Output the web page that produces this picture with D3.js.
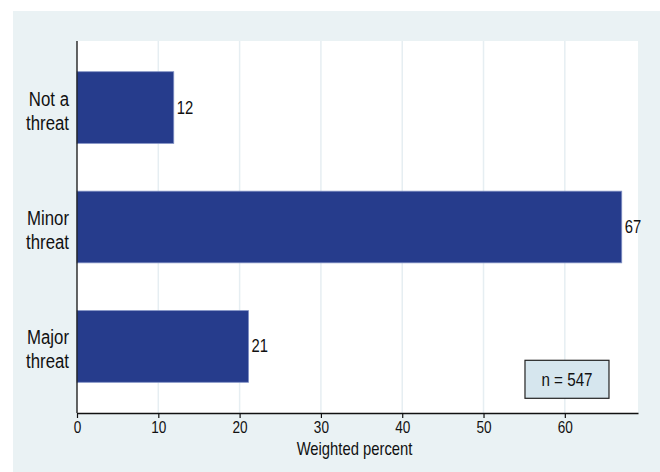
<!DOCTYPE html>
<html lang="en">
<head>
<meta charset="utf-8" />
<title>Weighted percent</title>
<script src="https://d3js.org/d3.v7.min.js"></script>
<style>
  body { margin: 0; background: #fff; }
  text { font-family: "Liberation Sans", Arial, sans-serif; fill: #111; }
</style>
</head>
<body>
<script>
// data
var categories = [["Not a", "threat"], ["Minor", "threat"], ["Major", "threat"]];
var values = [11.9, 67.0, 21.1];
var valueLabels = ["12", "67", "21"];
var xTicks = [0, 10, 20, 30, 40, 50, 60];
var note = "n = 547";

var W = 660, H = 472;
var margin = {top: 41, right: 22, bottom: 59, left: 77};
var width = W - margin.left - margin.right,
    height = H - margin.top - margin.bottom;
var SX = 0.8; // horizontal squeeze, the original uses a narrow face

function at(px, py) {
  return "translate(" + px + "," + py + ") scale(" + SX + ",1)";
}

var svg = d3.select("body").append("svg")
    .attr("width", W)
    .attr("height", H);

// outer background
svg.append("rect")
    .attr("x", 13).attr("y", 11)
    .attr("width", W - 13).attr("height", H - 11)
    .attr("fill", "#eaf2f4");

var g = svg.append("g")
    .attr("transform", "translate(" + margin.left + "," + margin.top + ")");

g.append("rect")
    .attr("width", width).attr("height", height)
    .attr("fill", "#fff");

var x = d3.scaleLinear().domain([0, 69]).range([0, width]);
var y = d3.scaleBand()
    .domain(d3.range(categories.length))
    .range([0, height])
    .paddingInner(0.4)
    .paddingOuter(0.257);

// grid lines
g.selectAll(".grid")
    .data(xTicks.filter(function(d) { return d > 0; }))
  .enter().append("line")
    .attr("x1", function(d) { return x(d); })
    .attr("x2", function(d) { return x(d); })
    .attr("y1", 0).attr("y2", height)
    .attr("stroke", "#e6eef2")
    .attr("stroke-width", 1.5);

// bars
g.selectAll(".bar")
    .data(values)
  .enter().append("rect")
    .attr("x", 0)
    .attr("y", function(d, i) { return y(i); })
    .attr("width", function(d) { return x(d); })
    .attr("height", y.bandwidth())
    .attr("fill", "#263c8c")
    .attr("stroke", "#8090c4")
    .attr("stroke-width", 0.8);

// value labels
g.selectAll(".val")
    .data(values)
  .enter().append("text")
    .attr("transform", function(d, i) { return at(x(d) + 3, y(i) + y.bandwidth() / 2 + 6); })
    .attr("font-size", 18.5)
    .text(function(d, i) { return valueLabels[i]; });

// category labels
var cat = g.selectAll(".cat")
    .data(categories)
  .enter().append("text")
    .attr("text-anchor", "end")
    .attr("font-size", 21)
    .attr("transform", function(d, i) { return at(-8, y(i) + y.bandwidth() / 2); });
cat.append("tspan").attr("x", 0).attr("y", -2).text(function(d) { return d[0]; });
cat.append("tspan").attr("x", 0).attr("y", 22).text(function(d) { return d[1]; });

// x axis
var xAxis = g.append("g")
    .attr("transform", "translate(0," + height + ")")
    .call(d3.axisBottom(x).tickValues(xTicks).tickSize(5).tickSizeOuter(0).tickPadding(3));
xAxis.select(".domain").attr("stroke", "#111").attr("stroke-width", 1.3);
xAxis.selectAll(".tick line").attr("stroke", "#111").attr("stroke-width", 1.2);
xAxis.selectAll(".tick text")
    .attr("font-size", 17)
    .attr("font-family", "'Liberation Sans', Arial, sans-serif")
    .attr("fill", "#111")
    .attr("transform", "scale(" + SX + ",1)");

// y axis line
g.append("line")
    .attr("x1", 0).attr("x2", 0)
    .attr("y1", 0).attr("y2", height)
    .attr("stroke", "#111")
    .attr("stroke-width", 1.3);

// axis title
g.append("text")
    .attr("transform", at(width / 2 - 3, height + 42))
    .attr("text-anchor", "middle")
    .attr("font-size", 18.5)
    .text("Weighted percent");

// n box
var box = g.append("g")
    .attr("transform", "translate(" + (x(55.1)) + "," + (y(2) + y.bandwidth() - 22) + ")");
box.append("rect")
    .attr("width", 84).attr("height", 38)
    .attr("fill", "#d6e6ee")
    .attr("stroke", "#222")
    .attr("stroke-width", 1.2);
box.append("text")
    .attr("transform", at(42, 26))
    .attr("text-anchor", "middle")
    .attr("font-size", 19)
    .text(note);
</script>
</body>
</html>
